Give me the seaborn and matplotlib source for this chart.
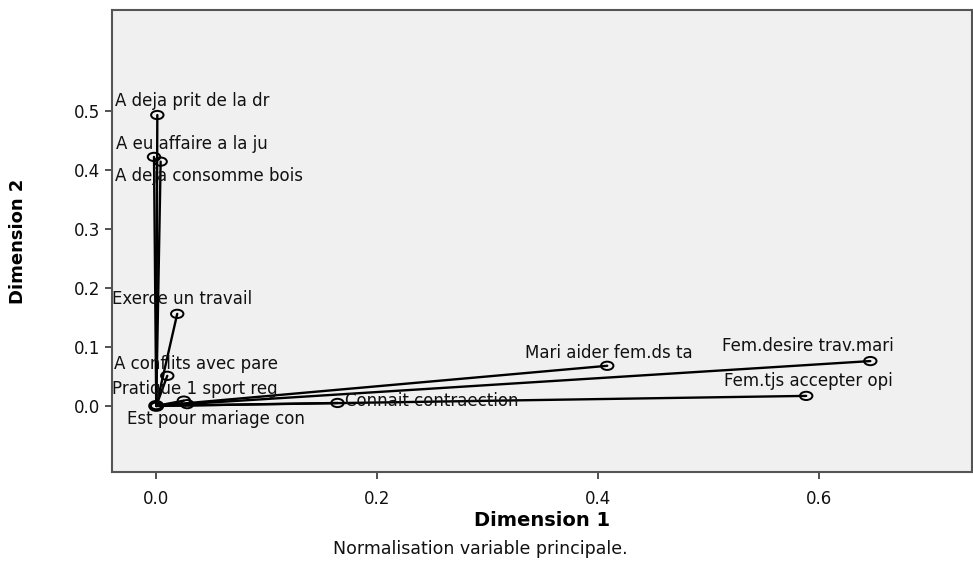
import numpy as np
import pandas as pd
import matplotlib
matplotlib.use("Agg")
import matplotlib.pyplot as plt
from matplotlib.path import Path
from matplotlib.transforms import Affine2D
from matplotlib.ticker import FormatStrFormatter
import seaborn as sns

# loadings
labels = [
    "A deja prit de la dr", "A eu affaire a la ju", "A deja consomme bois",
    "Exerce un travail", "A conflits avec pare", "Pratique 1 sport reg",
    "Est pour mariage con", "Connait contraection", "Mari aider fem.ds ta",
    "Fem.desire trav.mari", "Fem.tjs accepter opi",
]
dim1 = [0.001, -0.002, 0.004, 0.019, 0.010, 0.025, 0.028, 0.164, 0.408, 0.646, 0.588]
dim2 = [0.493, 0.422, 0.414, 0.156, 0.051, 0.009, 0.003, 0.005, 0.068, 0.076, 0.017]

# label offsets in pixels (dx, dy) relative to each point
label_dx = [-42, -38, -46, -65, -53, -72, -60, 7, -82, -148, -82]
label_dy = [14, 13, -14, 15, 12, 12, -15, 2, 13, 15, 15]

df = pd.DataFrame({"label": labels, "dim1": dim1, "dim2": dim2})

sns.set_style("ticks")
plt.rcParams["font.family"] = ["DejaVu Sans"]

fig = plt.figure(figsize=(9.73, 5.65), dpi=100)
ax = fig.add_axes([112 / 973, 93 / 565, 860 / 973, 462 / 565])
ax.set_facecolor("#f0f0f0")

# lines from the origin to each variable
for x, y in zip(df["dim1"], df["dim2"]):
    ax.plot([0, x], [0, y], color="black", lw=1.7, zorder=2)

# slightly flattened open circles like the SPSS output
ellipse = Path.unit_circle().transformed(Affine2D().scale(1.5, 1.0))
sns.scatterplot(data=df, x="dim1", y="dim2", ax=ax, marker=ellipse, s=80,
                facecolor="none", edgecolor="black", linewidth=1.4, zorder=3)
ax.scatter([0], [0], marker=ellipse, s=80, facecolor="none",
           edgecolor="black", linewidth=2.6, zorder=3)

for lab, x, y, dx, dy in zip(df["label"], df["dim1"], df["dim2"], label_dx, label_dy):
    ax.annotate(lab, (x, y), xytext=(dx, dy), textcoords="offset pixels",
                ha="left", va="center", fontsize=12, color="#111111", zorder=4)

ax.set_xlim(-0.040, 0.738)
ax.set_ylim(-0.112, 0.671)
ax.set_xticks([0.0, 0.2, 0.4, 0.6])
ax.set_yticks([0.0, 0.1, 0.2, 0.3, 0.4, 0.5])
ax.xaxis.set_major_formatter(FormatStrFormatter("%.1f"))
ax.yaxis.set_major_formatter(FormatStrFormatter("%.1f"))
ax.tick_params(axis="both", direction="out", length=5, width=1.2,
               color="#333333", labelsize=12, labelcolor="#111111")
ax.tick_params(axis="x", pad=8)
for side, sp in ax.spines.items():
    sp.set_visible(True)
    sp.set_color("#555555")
    sp.set_linewidth(1.5)

ax.set_xlabel("Dimension 1", fontsize=14, fontweight="bold", color="black")
ax.set_ylabel("Dimension 2", fontsize=13, fontweight="bold", color="black")
ax.xaxis.set_label_coords(0.5, -0.104)
ax.yaxis.set_label_coords(-0.109, 0.5)
ax.xaxis.label.set_va("center")
ax.yaxis.label.set_va("center")

fig.text(480 / 973, 1 - 549 / 565, "Normalisation variable principale.",
         ha="center", va="center", fontsize=12.5, color="#111111")

fig.savefig("out.png", dpi=100)
